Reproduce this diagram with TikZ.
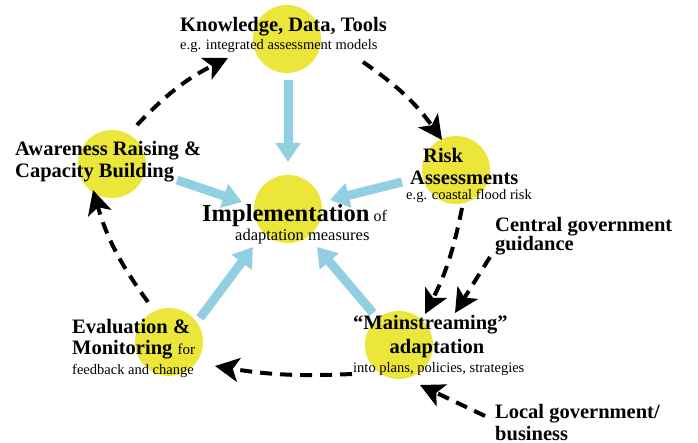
\documentclass[tikz,border=0pt]{standalone}
\usepackage{fontspec}
\setmainfont{Liberation Serif}
\usetikzlibrary{arrows.meta}
\definecolor{circyellow}{RGB}{236,230,58}
\definecolor{arrowblue}{RGB}{146,207,226}
\begin{document}
\begin{tikzpicture}[x=1pt,y=-1pt,
  hub/.style={circle,fill=circyellow,minimum size=68pt,inner sep=0},
  bigb/.style={font=\fontsize{20.5}{22}\selectfont\bfseries,inner sep=0,anchor=base west},
  smalltxt/.style={font=\fontsize{14.5}{16}\selectfont,inner sep=0,anchor=base west},
  feed/.style={draw=arrowblue,line width=9pt,-{Triangle[length=19pt,width=24pt]}},
  loopdash/.style={draw=black,line width=4pt,dash pattern=on 12pt off 8pt,-{Stealth[length=24pt,width=24pt,inset=6pt]}},
]
\useasboundingbox (0,0) rectangle (698,443);
% circles
\node[hub] (kn) at (287,39) {};
\node[hub] (aw) at (112,164) {};
\node[hub] (im) at (288,209) {};
\node[hub] (ri) at (456,170) {};
\node[hub] (ev) at (169,342) {};
\node[hub] (ma) at (399,345) {};
% blue feed arrows
\coordinate (b1s) at (288,80);  \coordinate (b1e) at (288,162);
\coordinate (b2s) at (177,180); \coordinate (b2e) at (242,202);
\coordinate (b3s) at (402,182); \coordinate (b3e) at (330,200);
\coordinate (b4s) at (200,318); \coordinate (b4e) at (253,247);
\coordinate (b5s) at (373,313); \coordinate (b5e) at (317,247);
\draw[feed] (b1s) -- (b1e);
\draw[feed] (b2s) -- (b2e);
\draw[feed] (b3s) -- (b3e);
\draw[feed] (b4s) -- (b4e);
\draw[feed] (b5s) -- (b5e);
% dashed cycle arrows
\coordinate (c1s) at (137,125); \coordinate (c1e) at (228,58);
\coordinate (c2s) at (363,62);  \coordinate (c2e) at (442,140);
\coordinate (c3s) at (462,208); \coordinate (c3e) at (425,314);
\coordinate (c4s) at (352,374); \coordinate (c4e) at (215,366);
\coordinate (c5s) at (148,302); \coordinate (c5e) at (93,190);
\coordinate (c6s) at (490,257); \coordinate (c6e) at (455,313);
\coordinate (c7s) at (485,416); \coordinate (c7e) at (420,385);
\draw[loopdash] (c1s) to[bend left=10] (c1e);
\draw[loopdash] (c2s) to[bend left=10] (c2e);
\draw[loopdash] (c3s) to[bend left=8] (c3e);
\draw[loopdash] (c4s) to[bend left=6] (c4e);
\draw[loopdash] (c5s) to[bend left=10] (c5e);
\draw[loopdash] (c6s) -- (c6e);
\draw[loopdash] (c7s) -- (c7e);
% texts
\node[bigb] (t1) at (180,32) {Knowledge, Data, Tools};
\node[smalltxt] (t1b) at (180,50) {e.g. integrated assessment models};
\node[bigb] (t2) at (15,156) {Awareness Raising \&};
\node[bigb] (t2b) at (15,178) {Capacity Building};
\node[inner sep=0,anchor=base west] (t3) at (202,222) {\fontsize{24.5}{26}\selectfont\bfseries Implementation\fontsize{16}{18}\selectfont\mdseries\ of};
\node[inner sep=0,anchor=base west,font=\fontsize{16.5}{18}\selectfont] (t3b) at (235,241) {adaptation measures};
\node[bigb] (t4) at (423,163) {Risk};
\node[bigb] (t4b) at (410,185) {Assessments};
\node[smalltxt] (t4c) at (406,200) {e.g. coastal flood risk};
\node[bigb] (t5) at (495,232) {Central government};
\node[bigb] (t5b) at (495,251) {guidance};
\node[bigb] (t6) at (353,330) {“Mainstreaming”};
\node[bigb,anchor=base] (t6b) at (437,353) {adaptation};
\node[smalltxt] (t6c) at (353,372) {into plans, policies, strategies};
\node[bigb] (t7) at (72,333) {Evaluation \&};
\node[bigb] (t7b) at (72,354) {Monitoring {\fontsize{15}{16}\selectfont\mdseries for}};
\node[smalltxt] (t7c) at (72,374) {feedback and change};
\node[bigb] (t8) at (495,418) {Local government/};
\node[bigb] (t8b) at (495,440) {business};
\end{tikzpicture}
\end{document}
